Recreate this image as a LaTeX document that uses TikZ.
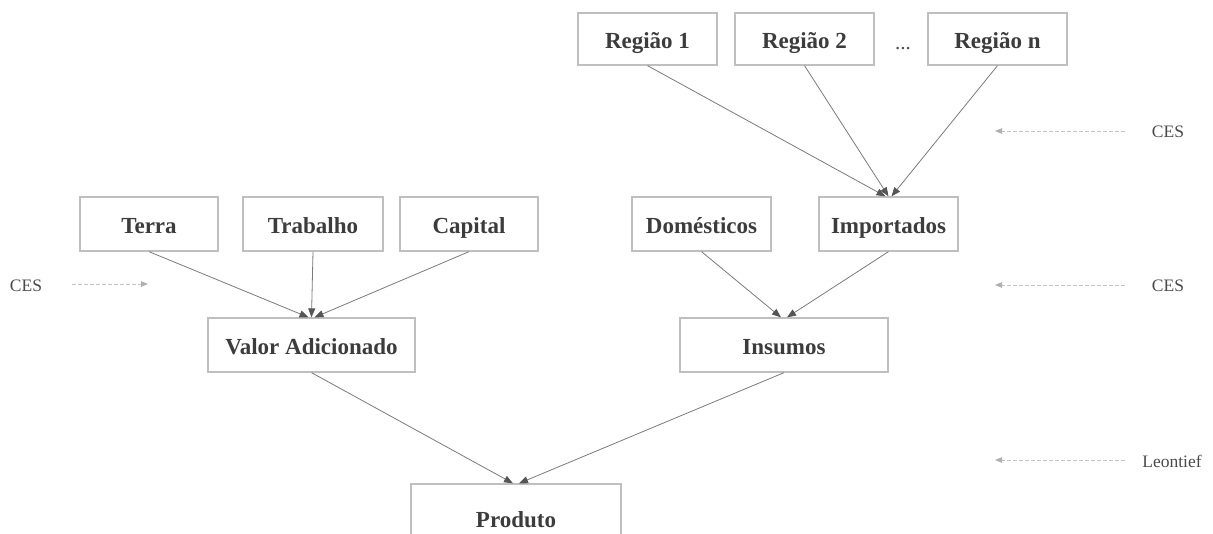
\documentclass[tikz,border=0pt]{standalone}
\usepackage{fontspec}
\setmainfont{Liberation Serif}
\usetikzlibrary{arrows.meta}
\definecolor{boxgray}{HTML}{BFBFBF}
\definecolor{txtgray}{HTML}{3C3C3C}
\definecolor{linegray}{HTML}{7A7A7A}
\definecolor{tipgray}{HTML}{555555}
\definecolor{dashgray}{HTML}{C4C4C4}
\definecolor{lbl}{HTML}{4A4A4A}
\tikzset{
  box/.style={draw=boxgray, line width=1.3pt, fill=white, text=txtgray,
    font=\fontsize{23}{26}\selectfont\bfseries, minimum height=54pt, inner sep=0pt,
    text height=20pt, text depth=0pt},
  conn/.style={draw=linegray, line width=0.8pt, -{Triangle[length=9pt,width=7pt,color=tipgray]}},
  dasharrow/.style={draw=dashgray, line width=0.8pt, dash pattern=on 4pt off 2pt,
    -{Triangle[length=7pt,width=5.5pt,color=dashgray!90!black]}},
  sidelbl/.style={text=lbl, font=\fontsize{17.5}{20}\selectfont, inner sep=0pt},
}
\begin{document}
\begin{tikzpicture}[x=1pt,y=-1pt]
\useasboundingbox (0,0) rectangle (1213,534);
% top regions
\node[box, minimum width=139pt, minimum height=52pt] (r1) at (647.5,39) {Região 1};
\node[box, minimum width=139pt, minimum height=52pt] (r2) at (804.5,39) {Região 2};
\node[box, minimum width=139pt, minimum height=52pt] (rn) at (997.5,39) {Região n};
\node[text=lbl, font=\fontsize{21}{24}\selectfont, anchor=base, inner sep=0pt] (dots) at (903,50) {...};
% middle row
\node[box, minimum width=138pt] (terra) at (149,224) {Terra};
\node[box, minimum width=140pt] (trab) at (313,224) {Trabalho};
\node[box, minimum width=138pt] (cap) at (469,224) {Capital};
\node[box, minimum width=139pt] (dom) at (701.5,224) {Domésticos};
\node[box, minimum width=139pt] (imp) at (888.5,224) {Importados};
% aggregates
\node[box, minimum width=207pt] (valor) at (311.5,345) {Valor Adicionado};
\node[box, minimum width=208pt] (ins) at (784,345) {Insumos};
\node[box, minimum width=210pt, minimum height=66pt] (prod) at (516,517) {Produto};
% connectors
\draw[conn] (r1.south) -- ([xshift=-3pt]imp.north);
\draw[conn] (r2.south) -- (imp.north);
\draw[conn] (rn.south) -- ([xshift=3pt]imp.north);
\draw[conn] (terra.south) -- ([xshift=-3pt]valor.north);
\draw[conn] (trab.south) -- (valor.north);
\draw[conn] (cap.south) -- ([xshift=3pt]valor.north);
\draw[conn] (dom.south) -- ([xshift=-3pt]ins.north);
\draw[conn] (imp.south) -- ([xshift=3pt]ins.north);
\draw[conn] (valor.south) -- ([xshift=-3pt]prod.north);
\draw[conn] (ins.south) -- ([xshift=3pt]prod.north);
% side labels
\node[sidelbl] (cesL) at (26,286) {CES};
\coordinate (lA) at (72,284);
\coordinate (lB) at (148,284);
\draw[dasharrow] (lA) -- (lB);
\node[sidelbl] (cesR1) at (1168,132) {CES};
\coordinate (a1s) at (1125,131);
\coordinate (a1e) at (995,131);
\draw[dasharrow] (a1s) -- (a1e);
\node[sidelbl] (cesR2) at (1168,286) {CES};
\coordinate (a2s) at (1125,285);
\coordinate (a2e) at (995,285);
\draw[dasharrow] (a2s) -- (a2e);
\node[sidelbl] (leon) at (1172,461) {Leontief};
\coordinate (a3s) at (1125,460);
\coordinate (a3e) at (995,460);
\draw[dasharrow] (a3s) -- (a3e);
\end{tikzpicture}
\end{document}
